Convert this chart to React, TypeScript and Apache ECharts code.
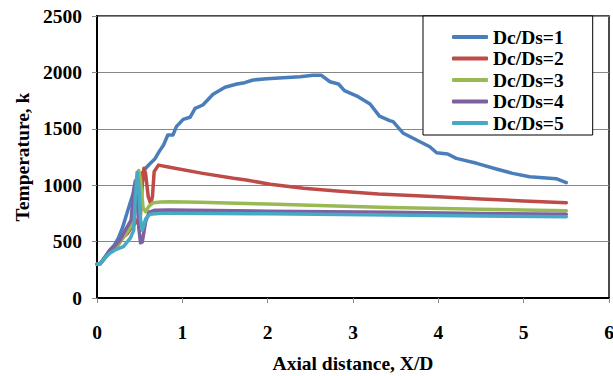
import React, { useEffect, useRef } from "react";
import * as echarts from "echarts";

const seriesNames = ["Dc/Ds=1", "Dc/Ds=2", "Dc/Ds=3", "Dc/Ds=4", "Dc/Ds=5"];
const seriesColors = ["#4A7EBB", "#BE4B48", "#98B954", "#7D60A0", "#46AAC5"];

const ds1: [number, number][] = [
  [0, 300], [0.04, 305], [0.1, 370], [0.15, 425], [0.2, 465], [0.25, 530], [0.3, 625],
  [0.35, 750], [0.4, 870], [0.45, 985], [0.5, 1075], [0.57, 1150], [0.62, 1190],
  [0.68, 1235], [0.73, 1300], [0.78, 1356], [0.83, 1445], [0.89, 1445], [0.93, 1519],
  [1.01, 1584], [1.09, 1602], [1.15, 1682], [1.24, 1711], [1.36, 1806], [1.5, 1868],
  [1.64, 1897], [1.73, 1909], [1.83, 1933], [1.99, 1944], [2.18, 1953], [2.38, 1962],
  [2.53, 1974], [2.63, 1974], [2.73, 1917], [2.83, 1897], [2.9, 1838], [3.06, 1785],
  [3.2, 1720], [3.31, 1613], [3.43, 1572], [3.47, 1563], [3.59, 1460], [3.9, 1341],
  [3.98, 1288], [4.11, 1277], [4.21, 1238], [4.45, 1194], [4.68, 1144], [4.87, 1105],
  [5.07, 1075], [5.38, 1058], [5.5, 1022],
];

const ds2: [number, number][] = [
  [0, 300], [0.04, 305], [0.1, 360], [0.15, 410], [0.2, 440], [0.25, 475], [0.31, 540],
  [0.36, 575], [0.41, 632], [0.47, 680], [0.51, 740], [0.53, 1000], [0.55, 1150],
  [0.57, 1100], [0.6, 900], [0.63, 835], [0.65, 900], [0.67, 1120], [0.72, 1178],
  [0.85, 1159], [1.24, 1105], [1.6, 1061], [1.75, 1046], [2.03, 1008], [2.42, 972],
  [2.81, 949], [3.3, 922], [4.0, 898], [4.5, 878], [5.0, 860], [5.5, 845],
];

const ds3: [number, number][] = [
  [0, 300], [0.04, 305], [0.1, 360], [0.15, 410], [0.2, 445], [0.25, 480], [0.3, 530],
  [0.36, 590], [0.41, 650], [0.44, 760], [0.47, 1050], [0.49, 1130], [0.51, 1050],
  [0.54, 800], [0.57, 765], [0.61, 815], [0.66, 845], [0.75, 852], [0.85, 854],
  [1.2, 848], [2.0, 833], [3.0, 812], [3.43, 802], [4.5, 786], [5.5, 774],
];

const ds4: [number, number][] = [
  [0, 300], [0.04, 305], [0.1, 370], [0.15, 420], [0.2, 455], [0.27, 514], [0.33, 600],
  [0.4, 690], [0.43, 960], [0.45, 1040], [0.47, 900], [0.49, 620], [0.51, 490],
  [0.53, 495], [0.57, 676], [0.61, 760], [0.68, 778], [0.85, 780], [2.0, 770],
  [3.43, 760], [4.5, 750], [5.5, 742],
];

const ds5: [number, number][] = [
  [0, 300], [0.04, 305], [0.1, 365], [0.15, 396], [0.22, 430], [0.31, 455], [0.39, 530],
  [0.43, 600], [0.45, 900], [0.47, 1115], [0.49, 1000], [0.51, 700], [0.53, 600],
  [0.57, 700], [0.62, 742], [0.75, 752], [0.88, 752], [2.0, 746], [3.43, 736],
  [4.5, 728], [5.5, 720],
];

const allData = [ds1, ds2, ds3, ds4, ds5];

const FONT = "'Liberation Serif', 'Times New Roman', serif";
const FS = 19.5;

export default function App() {
  const ref = useRef<HTMLDivElement>(null);
  useEffect(() => {
    if (!ref.current) return;
    const chart = echarts.init(ref.current, null, { renderer: "svg" });
    chart.setOption({
      animation: false,
      backgroundColor: "#ffffff",
      grid: {
        left: 97,
        right: 4,
        top: 16,
        bottom: 78,
        show: true,
        borderColor: "#111",
        borderWidth: 1.5,
        outerBoundsMode: "none",
        containLabel: false,
      },
      legend: {
        left: 423,
        top: 16,
        orient: "vertical",
        data: seriesNames,
        icon: "roundRect",
        itemWidth: 36,
        itemHeight: 4,
        itemGap: 1.5,
        padding: [11, 29, 2, 29],
        borderColor: "#000",
        borderWidth: 1,
        backgroundColor: "#fff",
        textStyle: {
          fontFamily: FONT,
          fontWeight: "bold",
          fontSize: FS,
          lineHeight: 18,
          color: "#000",
        },
      },
      xAxis: {
        type: "value",
        min: 0,
        max: 6,
        interval: 1,
        name: "Axial distance, X/D",
        nameLocation: "middle",
        nameGap: 56,
        nameTextStyle: { fontFamily: FONT, fontWeight: "bold", fontSize: FS, lineHeight: 19, color: "#000" },
        axisLine: { show: true, onZero: false, lineStyle: { color: "#000", width: 2 } },
        axisTick: { show: true, length: 5, lineStyle: { color: "#888" } },
        axisLabel: { fontFamily: FONT, fontWeight: "bold", fontSize: FS, color: "#000", margin: 24 },
        splitLine: { show: false },
      },
      yAxis: {
        type: "value",
        min: 0,
        max: 2500,
        interval: 500,
        name: "Temperature, k",
        nameLocation: "middle",
        nameGap: 65,
        nameTextStyle: { fontFamily: FONT, fontWeight: "bold", fontSize: FS, color: "#000" },
        axisLine: { show: true, lineStyle: { color: "#000", width: 2 } },
        axisTick: { show: true, length: 5, lineStyle: { color: "#888" } },
        axisLabel: {
          fontFamily: FONT,
          fontWeight: "bold",
          fontSize: FS,
          color: "#000",
          margin: 15,
          formatter: (v: number) => String(v),
        },
        splitLine: { show: true, lineStyle: { color: "#878787", width: 1.2 } },
      },
      series: allData.map((d, i) => ({
        name: seriesNames[i],
        type: "line",
        data: d,
        symbol: "none",
        smooth: false,
        color: seriesColors[i],
        lineStyle: { width: 3.5, color: seriesColors[i], join: "round", cap: "round" },
      })),
    });
    return () => chart.dispose();
  }, []);
  return <div ref={ref} style={{ width: 613, height: 376, position: "absolute", left: 0, top: 0 }} />;
}
